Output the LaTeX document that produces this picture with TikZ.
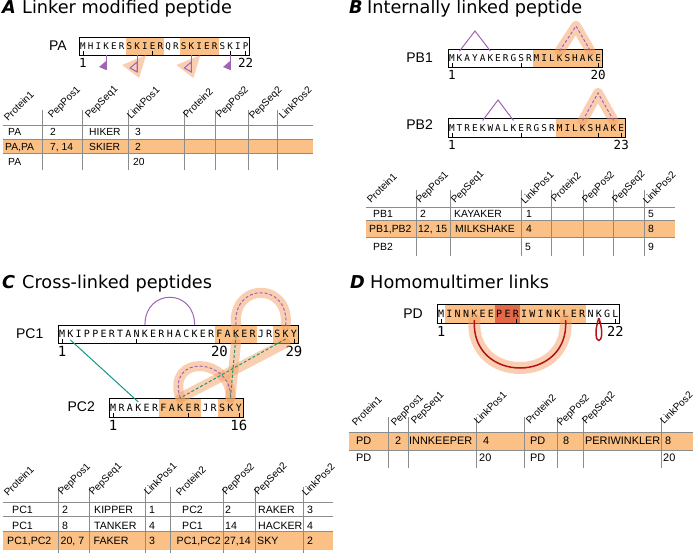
\documentclass[tikz,border=0pt]{standalone}
\usepackage{fontspec}
\setmainfont{Liberation Sans}
\newfontfamily\ttl{DejaVu Sans}
\newfontfamily\mono{DejaVu Sans Mono}
\usetikzlibrary{calc}
\definecolor{hl}{RGB}{250,192,134}
\definecolor{hldark}{RGB}{226,104,72}
\definecolor{lpurple}{RGB}{160,100,180}
\definecolor{tealc}{RGB}{24,150,136}
\definecolor{dgreen}{RGB}{40,150,100}
\definecolor{halocol}{RGB}{245,160,100}
\definecolor{dred}{RGB}{178,18,24}
\definecolor{rulec}{RGB}{140,140,140}
\newcommand\seqline[7]{% name, x0, ytop, pitch, height, fontsize, letters
  \foreach \l [count=\i] in {#7}{%
    \pgfmathsetmacro\cx{#2+(\i-0.5)*#4}%
    \pgfmathsetmacro\cy{#3+#5/2+0.3645*#6}%
    \node[res, font=\mono\fontsize{#6}{#6}\selectfont] (#1-\i) at (\cx,\cy) {\l};
    \coordinate (#1-\i-t) at (\cx,#3);
    \coordinate (#1-\i-b) at (\cx,#3+#5);
  }%
}
\begin{document}
\begin{tikzpicture}[x=1pt,y=-1pt,
  ttlstyle/.style={anchor=base west, inner sep=0, font=\ttl\fontsize{17.7}{20}\selectfont},
  letstyle/.style={anchor=base west, inner sep=0, font=\ttl\bfseries\itshape\fontsize{17.7}{20}\selectfont},
  plabel/.style={anchor=base east, inner sep=0, font=\fontsize{14}{16}\selectfont},
  numlab/.style={anchor=north, inner sep=0},
  res/.style={anchor=base, inner sep=0},
  cell/.style={anchor=base west, inner sep=0, font=\fontsize{\cs}{12}\selectfont},
  hdr/.style={anchor=base west, inner sep=0, rotate=45, font=\fontsize{10}{12}\selectfont},
  rulel/.style={draw=rulec, line width=0.7},
  seqbox/.style={draw=black, line width=0.8},
  tickl/.style={draw=black, line width=0.6},
  halo/.style={draw=halocol, line width=10, opacity=0.5, line cap=round, line join=round},
  plink/.style={draw=lpurple, line width=1},
  pdash/.style={draw=lpurple, line width=1, dash pattern=on 3pt off 2pt},
  gdash/.style={draw=dgreen, line width=1, dash pattern=on 3pt off 2pt},
]
\useasboundingbox (0,0) rectangle (696,553);

% ================= Panel A =================
\node[letstyle] (tA) at (2,13.5) {A};
\node[ttlstyle] (tAt) at (22,13.5) {Linker modified peptide};
\fill[hl] (125.5,37) rectangle (164.25,55);
\fill[hl] (179.75,37) rectangle (218.5,55);
\draw[seqbox] (79,37) rectangle (249.5,55);
\seqline{PA}{79}{37}{7.75}{18}{9.2}{M,H,I,K,E,R,S,K,I,E,R,Q,R,S,K,I,E,R,S,K,I,P}
\foreach \k in {1,10,20,22}{\draw[tickl] (PA-\k-b) -- ++(0,-4);}
\node[plabel] (PAl) at (67,50.5) {PA};
\node[numlab, font=\mono\fontsize{12.5}{12.5}\selectfont] (PAn1) at ($(PA-1-b)+(0,3)$) {1};
\node[numlab, font=\mono\fontsize{12.5}{12.5}\selectfont] (PAn2) at ($(PA-22-b)+(0,3)$) {22};
% linker markers
\foreach \k in {8,15}{
  \fill[halocol, opacity=0.5] ($(PA-\k-b)+(9,0)$) -- ++(-24,10) -- ++(17,13) -- cycle;
  \draw[plink] (PA-\k-b) -- ++(0,17);
  \draw[plink] ($(PA-\k-b)+(0,7)$) -- ++(0,10) -- ++(-7,-4) -- cycle;
}
\foreach \k in {4,20}{
  \draw[plink] (PA-\k-b) -- ++(0,15);
  \fill[lpurple] ($(PA-\k-b)+(0,6)$) -- ++(0,9) -- ++(-7,-3) -- cycle;
}
% Table A
\def\cs{10.3}
\fill[hl] (3,139) rectangle (313,153.5);
\foreach \y in {125,139,153.5}{\draw[rulel] (3,\y) -- (313,\y);}
\foreach \x in {42,82,128,184,215,248,277}{\draw[rulel] (\x,110) -- (\x,170);}
\foreach \t/\x/\y [count=\i] in {Protein1/8/122, PepPos1/52/119, PepSeq1/89/119, LinkPos1/131/120, Protein2/187/119, PepPos2/220/119, PepSeq2/253/120, LinkPos2/283/120}{\node[hdr] (hA\i) at (\x,\y) {\t};}
\node[cell] (a11) at (8,135.5) {PA};
\node[cell] (a12) at (50,135.5) {2};
\node[cell] (a13) at (89,135.5) {HIKER};
\node[cell] (a14) at (135,135.5) {3};
\node[cell] (a21) at (5,150.5) {PA,PA};
\node[cell] (a22) at (50,150.5) {7, 14};
\node[cell] (a23) at (89,150.5) {SKIER};
\node[cell] (a24) at (135,150.5) {2};
\node[cell] (a31) at (8,166) {PA};
\node[cell] (a34) at (133,166) {20};

% ================= Panel B =================
\node[letstyle] (tB) at (349,14) {B};
\node[ttlstyle] (tBt) at (367,14) {Internally linked peptide};
\fill[hl] (532.7,49) rectangle (602,67);
\draw[seqbox] (448,49) rectangle (602,67);
\seqline{PB1}{448}{49}{7.7}{18}{9.4}{M,K,A,Y,A,K,E,R,G,S,R,M,I,L,K,S,H,A,K,E}
\foreach \k in {1,10,20}{\draw[tickl] (PB1-\k-b) -- ++(0,-4);}
\node[plabel] (PB1l) at (433,62.5) {PB1};
\node[numlab, font=\mono\fontsize{12.5}{12.5}\selectfont] (PB1n1) at ($(PB1-1-b)+(0,3.5)$) {1};
\node[numlab, font=\mono\fontsize{12.5}{12.5}\selectfont] (PB1n2) at ($(PB1-20-b)+(0,3.5)$) {20};
\coordinate (PB1ap) at (475,31);
\coordinate (PB1ao) at (576,26);
\draw[plink] ($(PB1-2-t)+(0,2)$) -- (PB1ap) -- ($(PB1-6-t)+(0,2)$);
\draw[halo] ($(PB1-15-t)+(0,2)$) -- (PB1ao) -- ($(PB1-19-t)+(0,2)$);
\draw[pdash] ($(PB1-15-t)+(0,2)$) -- (PB1ao) -- ($(PB1-19-t)+(0,2)$);

\fill[hl] (555.8,118.5) rectangle (625.1,137);
\draw[seqbox] (448,118.5) rectangle (625.1,137);
\seqline{PB2}{448}{118.5}{7.7}{18.5}{9.4}{M,T,R,E,K,W,A,L,K,E,R,G,S,R,M,I,L,K,S,H,A,K,E}
\foreach \k in {1,10,20,23}{\draw[tickl] (PB2-\k-b) -- ++(0,-4);}
\node[plabel] (PB2l) at (433,129.5) {PB2};
\node[numlab, font=\mono\fontsize{12.5}{12.5}\selectfont] (PB2n1) at ($(PB2-1-b)+(0,3.5)$) {1};
\node[numlab, font=\mono\fontsize{12.5}{12.5}\selectfont] (PB2n2) at ($(PB2-23-b)+(0,3.5)$) {23};
\coordinate (PB2ap) at (498,100);
\coordinate (PB2ao) at (598,93);
\draw[plink] ($(PB2-5-t)+(0,2)$) -- (PB2ap) -- ($(PB2-9-t)+(0,2)$);
\draw[halo] ($(PB2-18-t)+(0,2)$) -- (PB2ao) -- ($(PB2-22-t)+(0,2)$);
\draw[pdash] ($(PB2-18-t)+(0,2)$) -- (PB2ao) -- ($(PB2-22-t)+(0,2)$);
% Table B
\def\cs{10.4}
\fill[hl] (366,220) rectangle (675,237);
\foreach \y in {207,220,237}{\draw[rulel] (366,\y) -- (675,\y);}
\foreach \x in {416,450,521,551,583,613,644}{\draw[rulel] (\x,190) -- (\x,256);}
\foreach \t/\x/\y [count=\i] in {Protein1/371/204, PepPos1/420/204, PepSeq1/455/204, LinkPos1/525/205, Protein2/555/203, PepPos2/586/204, PepSeq2/616/204, LinkPos2/647/205}{\node[hdr] (hB\i) at (\x,\y) {\t};}
\node[cell] (b11) at (373,217.5) {PB1};
\node[cell] (b12) at (420,217.5) {2};
\node[cell] (b13) at (454,217.5) {KAYAKER};
\node[cell] (b14) at (526,217.5) {1};
\node[cell] (b18) at (648,217.5) {5};
\node[cell] (b21) at (369,232.5) {PB1,PB2};
\node[cell] (b22) at (418,232.5) {12, 15};
\node[cell] (b23) at (455,232.5) {MILKSHAKE};
\node[cell] (b24) at (526,232.5) {4};
\node[cell] (b28) at (648,232.5) {8};
\node[cell] (b31) at (373,251) {PB2};
\node[cell] (b34) at (525,251) {5};
\node[cell] (b38) at (648,251) {9};

% ================= Panel C =================
\node[letstyle] (tC) at (2,289) {C};
\node[ttlstyle] (tCt) at (22,289) {Cross-linked peptides};
\fill[hl] (215.3,325) rectangle (256.7,343);
\fill[hl] (273.3,325) rectangle (298.1,343);
\draw[seqbox] (58,325) rectangle (298.1,343);
\seqline{PC1}{58}{325}{8.28}{18}{10}{M,K,I,P,P,E,R,T,A,N,K,E,R,H,A,C,K,E,R,F,A,K,E,R,J,R,S,K,Y}
\foreach \k in {1,10,20,29}{\draw[tickl] (PC1-\k-b) -- ++(0,-4);}
\node[plabel] (PC1l) at (43.5,338.5) {PC1};
\node[numlab, font=\mono\fontsize{14}{14}\selectfont] (PC1n1) at ($(PC1-1-b)+(0,2.7)$) {1};
\node[numlab, font=\mono\fontsize{14}{14}\selectfont] (PC1n2) at ($(PC1-20-b)+(0,2.7)$) {20};
\node[numlab, font=\mono\fontsize{14}{14}\selectfont] (PC1n3) at ($(PC1-29-b)+(0,2.7)$) {29};

\fill[hl] (159.25,398) rectangle (201.1,417);
\fill[hl] (217.9,398) rectangle (243,417);
\draw[seqbox] (109,398) rectangle (243,417);
\seqline{PC2}{109}{398}{8.375}{19}{10}{M,R,A,K,E,R,F,A,K,E,R,J,R,S,K,Y}
\foreach \k in {1,10,16}{\draw[tickl] (PC2-\k-b) -- ++(0,-4);}
\node[plabel] (PC2l) at (95,411.7) {PC2};
\node[numlab, font=\mono\fontsize{14}{14}\selectfont] (PC2n1) at ($(PC2-1-b)+(0,2.7)$) {1};
\node[numlab, font=\mono\fontsize{14}{14}\selectfont] (PC2n2) at ($(PC2-16-b)+(0,2.7)$) {16};

\draw[plink] (PC1-11-t) .. controls +(0,-37) and +(0,-37) .. (PC1-17-t);
\draw[tealc, line width=1] ($(PC1-2-b)+(0,-3)$) -- ($(PC2-4-t)+(0,4)$);
% crosslinks
\draw[halo] (PC1-22-t) .. controls +(-4,-43) and +(4,-43) .. (PC1-28-t);
\draw[halo] (PC1-22-b) -- (PC2-15-t);
\draw[halo] (PC1-28-b) -- (PC2-9-t);
\draw[halo] (PC2-9-t) .. controls +(-14,-45) and +(2,-40) .. (PC2-15-t);
\draw[pdash] (PC1-22-t) .. controls +(-4,-43) and +(4,-43) .. (PC1-28-t);
\draw[pdash] (PC2-9-t) .. controls +(-14,-45) and +(2,-40) .. (PC2-15-t);
\draw[gdash] ($(PC1-22-b)+(0,-8)$) -- (PC2-15-t);
\draw[gdash] ($(PC1-28-b)+(0,-4)$) -- (PC2-9-t);
% Table C
\def\cs{10.6}
\fill[hl] (3,531.5) rectangle (333,550);
\foreach \y in {502,516.7,531.5}{\draw[rulel] (3,\y) -- (333,\y);}
\foreach \x in {58,89,145,170,223,255,303}{\draw[rulel] (\x,487) -- (\x,553);}
\foreach \t/\x/\y [count=\i] in {Protein1/8/497, PepPos1/62/496, PepSeq1/93/496, LinkPos1/148/496, Protein2/180/497, PepPos2/226/496, PepSeq2/258/496, LinkPos2/306/497}{\node[hdr] (hC\i) at (\x,\y) {\t};}
\node[cell] (c11) at (12,513.5) {PC1};
\node[cell] (c12) at (62,513.5) {2};
\node[cell] (c13) at (94,513.5) {KIPPER};
\node[cell] (c14) at (149,513.5) {1};
\node[cell] (c15) at (182,513.5) {PC2};
\node[cell] (c16) at (225,513.5) {2};
\node[cell] (c17) at (258,513.5) {RAKER};
\node[cell] (c18) at (307,513.5) {3};
\node[cell] (c21) at (12,529) {PC1};
\node[cell] (c22) at (62,529) {8};
\node[cell] (c23) at (94,529) {TANKER};
\node[cell] (c24) at (149,529) {4};
\node[cell] (c25) at (182,529) {PC1};
\node[cell] (c26) at (225,529) {14};
\node[cell] (c27) at (258,529) {HACKER};
\node[cell] (c28) at (307,529) {4};
\node[cell] (c31) at (7,544) {PC1,PC2};
\node[cell] (c32) at (60.5,544) {20, 7};
\node[cell] (c33) at (93.5,544) {FAKER};
\node[cell] (c34) at (149,544) {3};
\node[cell] (c35) at (176.5,544) {PC1,PC2};
\node[cell] (c36) at (224,544) {27,14};
\node[cell] (c37) at (257,544) {SKY};
\node[cell] (c38) at (307,544) {2};

% ================= Panel D =================
\node[letstyle] (tD) at (350,289) {D};
\node[ttlstyle] (tDt) at (370,289) {Homomultimer links};
\fill[hl] (445.3,304) rectangle (586.4,323);
\fill[hldark] (495.1,304) rectangle (520,323);
\draw[seqbox] (437,304) rectangle (619.6,323);
\seqline{PD}{437}{304}{8.3}{19}{10}{M,I,N,N,K,E,E,P,E,R,I,W,I,N,K,L,E,R,N,K,G,L}
\foreach \k in {1,10,20,22}{\draw[tickl] (PD-\k-b) -- ++(0,-4);}
\node[plabel] (PDl) at (423,318.3) {PD};
\node[numlab, font=\mono\fontsize{13.7}{13.7}\selectfont] (PDn1) at ($(PD-1-b)+(0,3.5)$) {1};
\node[numlab, font=\mono\fontsize{13.7}{13.7}\selectfont] (PDn2) at ($(PD-22-b)+(0,3.5)$) {22};
\draw[halo, line width=12] ($(PD-5-b)+(0,-3)$) .. controls +(-4,64) and +(4,64) .. ($(PD-16-b)+(0,-3)$);
\draw[dred, line width=1.5] ($(PD-5-b)+(0,-3)$) .. controls +(-4,64) and +(4,64) .. ($(PD-16-b)+(0,-3)$);
\draw[dred, line width=1.5] ($(PD-20-b)+(0,-5)$) .. controls +(-10,30) and +(10,30) .. ($(PD-20-b)+(0,-5)$);
% Table D
\def\cs{10.9}
\fill[hl] (349,433) rectangle (693,450);
\foreach \y in {432.3,450}{\draw[rulel] (349,\y) -- (693,\y);}
\foreach \x in {388,408,476,524,557,583,661}{\draw[rulel] (\x,417) -- (\x,468);}
\foreach \t/\x/\y [count=\i] in {Protein1/356/427, PepPos1/395/427, PepSeq1/415/425, LinkPos1/478/425, Protein2/530/425, PepPos2/561/427, PepSeq2/586/425, LinkPos2/664/425}{\node[hdr] (hD\i) at (\x,\y) {\t};}
\node[cell] (d11) at (356,444.5) {PD};
\node[cell] (d12) at (395,444.5) {2};
\node[cell] (d13) at (409,444.5) {INNKEEPER};
\node[cell] (d14) at (483,444.5) {4};
\node[cell] (d15) at (530,444.5) {PD};
\node[cell] (d16) at (563,444.5) {8};
\node[cell] (d17) at (585,444.5) {PERIWINKLER};
\node[cell] (d18) at (665,444.5) {8};
\node[cell] (d21) at (356,461.5) {PD};
\node[cell] (d24) at (479,461.5) {20};
\node[cell] (d25) at (530,461.5) {PD};
\node[cell] (d28) at (663,461.5) {20};
\end{tikzpicture}
\end{document}
